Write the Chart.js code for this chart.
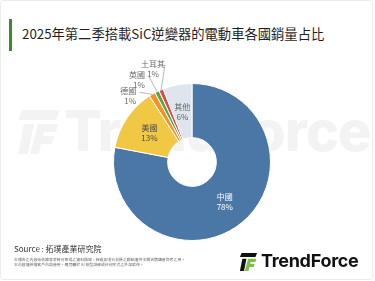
<!DOCTYPE html>
<html lang="zh-Hant">
<head>
<meta charset="UTF-8" />
<title>2025年第二季搭載SiC逆變器的電動車各國銷量占比</title>
<style>
  html, body {
    margin: 0;
    padding: 0;
    width: 375px;
    height: 281px;
    overflow: hidden;
    background: #fff;
    font-family: "Noto Sans CJK TC", "Noto Sans", sans-serif;
    color: #222;
  }
  #card {
    position: absolute;
    left: 0; top: 0;
    width: 371px; height: 278px;
    border: 1px solid #ececec;
    border-radius: 3px;
  }
  #bar {
    position: absolute;
    left: 9px; top: 19px;
    width: 3px; height: 32px;
    background: #3b8a2e;
  }
  #title {
    position: absolute;
    left: 22px; top: 25px;
    font-size: 13.3px;
    line-height: 18px;
    font-weight: 400;
    color: #1e1e1e;
    white-space: nowrap;
  }
  #watermark {
    position: absolute;
    left: 64px; top: 96px;
    font-family: Inter, "Open Sans", sans-serif;
    font-weight: 800;
    font-size: 56px;
    line-height: 70px;
    color: #f3f3f3;
    white-space: nowrap;
    letter-spacing: -1px;
  }
  #wmIcon {
    position: absolute;
    left: 18px; top: 110px;
  }
  #chartBox {
    position: absolute;
    left: 0; top: 0;
    width: 375px; height: 281px;
  }
  #source {
    position: absolute;
    left: 14px; top: 243px;
    font-size: 8px;
    line-height: 12px;
    color: #333;
    white-space: nowrap;
  }
  .note {
    position: absolute;
    left: 14px;
    font-size: 3.9px;
    line-height: 5px;
    color: #666;
    white-space: nowrap;
  }
  #logo {
    position: absolute;
    left: 238px; top: 253px;
  }
  #logoText {
    position: absolute;
    left: 261px; top: 250px;
    font-family: Inter, "Open Sans", sans-serif;
    font-weight: 700;
    font-size: 18px;
    line-height: 22px;
    color: #111;
    letter-spacing: -0.3px;
  }
</style>
</head>
<body>

<div id="card"></div>
<svg id="wmIcon" width="42" height="44" viewBox="0 0 21 22">
  <polygon points="2,0 21,0 19,5 0,5" fill="#f3f3f3"/>
  <polygon points="3,7 8,7 5,22 0,22" fill="#f3f3f3"/>
  <polygon points="10,7 20,7 19,11 13,11 12.5,13 18,13 17,17 11.5,17 10.5,22 6,22" fill="#f3f3f3"/>
</svg>
<div id="watermark">TrendForce</div>

<div id="bar"></div>
<div id="title">2025年第二季搭載SiC逆變器的電動車各國銷量占比</div>

<div id="chartBox"><canvas id="pieChart"></canvas></div>

<div id="source">Source : 拓墣產業研究院</div>
<div class="note" style="top:257px">本報告之內容係依據發表時可取得之資料撰寫，經過拓墣分析後之觀點僅供本報告閱讀者參考之用。</div>
<div class="note" style="top:262px">本內容僅授權客戶內部使用，嚴禁轉於 AI 模型訓練或任何形式之外部散布。</div>

<svg id="logo" width="21" height="18" viewBox="0 0 21 22">
  <polygon points="2,0 21,0 19,5 0,5" fill="#111"/>
  <polygon points="3,7 8,7 5,22 0,22" fill="#111"/>
  <polygon points="10,7 20,7 19,11 13,11 12.5,13 18,13 17,17 11.5,17 10.5,22 6,22" fill="#7cc242"/>
</svg>
<div id="logoText">TrendForce</div>

<script src="https://cdn.jsdelivr.net/npm/chart.js"></script>
<script>
  // Countries and their share (%) of Q2 2025 SiC-inverter EV sales
  const countries = ['中國', '美國', '德國', '英國', '土耳其', '其他'];
  const shares = [78.0, 12.9, 1.3, 0.9, 0.9, 6.0];
  const shareLabels = ['78%', '13%', '1%', '1%', '1%', '6%'];
  const sliceColors = ['#4b77a7', '#f1c843', '#f29228', '#58a646', '#e3474c', '#dfe5ee'];

  // label styling per slice
  const insideText = { 0: '#ffffff', 1: '#4a4a4a', 5: '#5f5f5f' };
  // small slices get a leader line: end offset from outer edge, then text offset from line end
  const outsideLabels = {
    2: { line: [-13, -2], name: [-11, -1], value: [-9, 9] },
    3: { line: [-8, -15], name: [-12, -2], value: [-10, 8] },
    4: { line: [4, -25], name: [-12, -1], value: [-12, 9] }
  };

  const sliceLabels = {
    id: 'sliceLabels',
    afterDatasetsDraw(chart) {
      const c = chart.ctx;
      const meta = chart.getDatasetMeta(0);
      c.save();
      c.font = '8px "Noto Sans CJK TC", "Noto Sans", sans-serif';
      c.textAlign = 'center';
      c.textBaseline = 'middle';
      meta.data.forEach((arc, i) => {
        if (insideText[i] !== undefined) {
          const p = arc.tooltipPosition(true);
          c.fillStyle = insideText[i];
          c.fillText(countries[i], p.x, p.y - 5);
          c.fillText(shareLabels[i], p.x, p.y + 5);
          return;
        }
        const spec = outsideLabels[i];
        if (!spec) return;
        const { x, y, startAngle, endAngle, outerRadius } = arc.getProps(['x', 'y', 'startAngle', 'endAngle', 'outerRadius'], true);
        const mid = (startAngle + endAngle) / 2;
        const ox = x + Math.cos(mid) * outerRadius;
        const oy = y + Math.sin(mid) * outerRadius;
        const ex = ox + spec.line[0];
        const ey = oy + spec.line[1];
        c.strokeStyle = '#9a9a9a';
        c.lineWidth = 0.7;
        c.beginPath();
        c.moveTo(ox, oy);
        c.lineTo(ex, ey);
        c.stroke();
        c.fillStyle = '#6a6a6a';
        c.fillText(countries[i], ex + spec.name[0], ey + spec.name[1]);
        c.fillText(shareLabels[i], ex + spec.value[0], ey + spec.value[1]);
      });
      c.restore();
    }
  };

  const ctx = document.getElementById('pieChart').getContext('2d');
  new Chart(ctx, {
    type: 'doughnut',
    data: {
      labels: countries,
      datasets: [{
        data: shares,
        backgroundColor: sliceColors,
        borderColor: '#ffffff',
        borderWidth: 1
      }]
    },
    options: {
      responsive: true,
      maintainAspectRatio: false,
      animation: false,
      cutout: '31%',
      layout: {
        padding: { top: 83, bottom: 40, left: 113, right: 104 }
      },
      plugins: {
        legend: { display: false },
        tooltip: { enabled: false }
      }
    },
    plugins: [sliceLabels]
  });
</script>

</body>
</html>
